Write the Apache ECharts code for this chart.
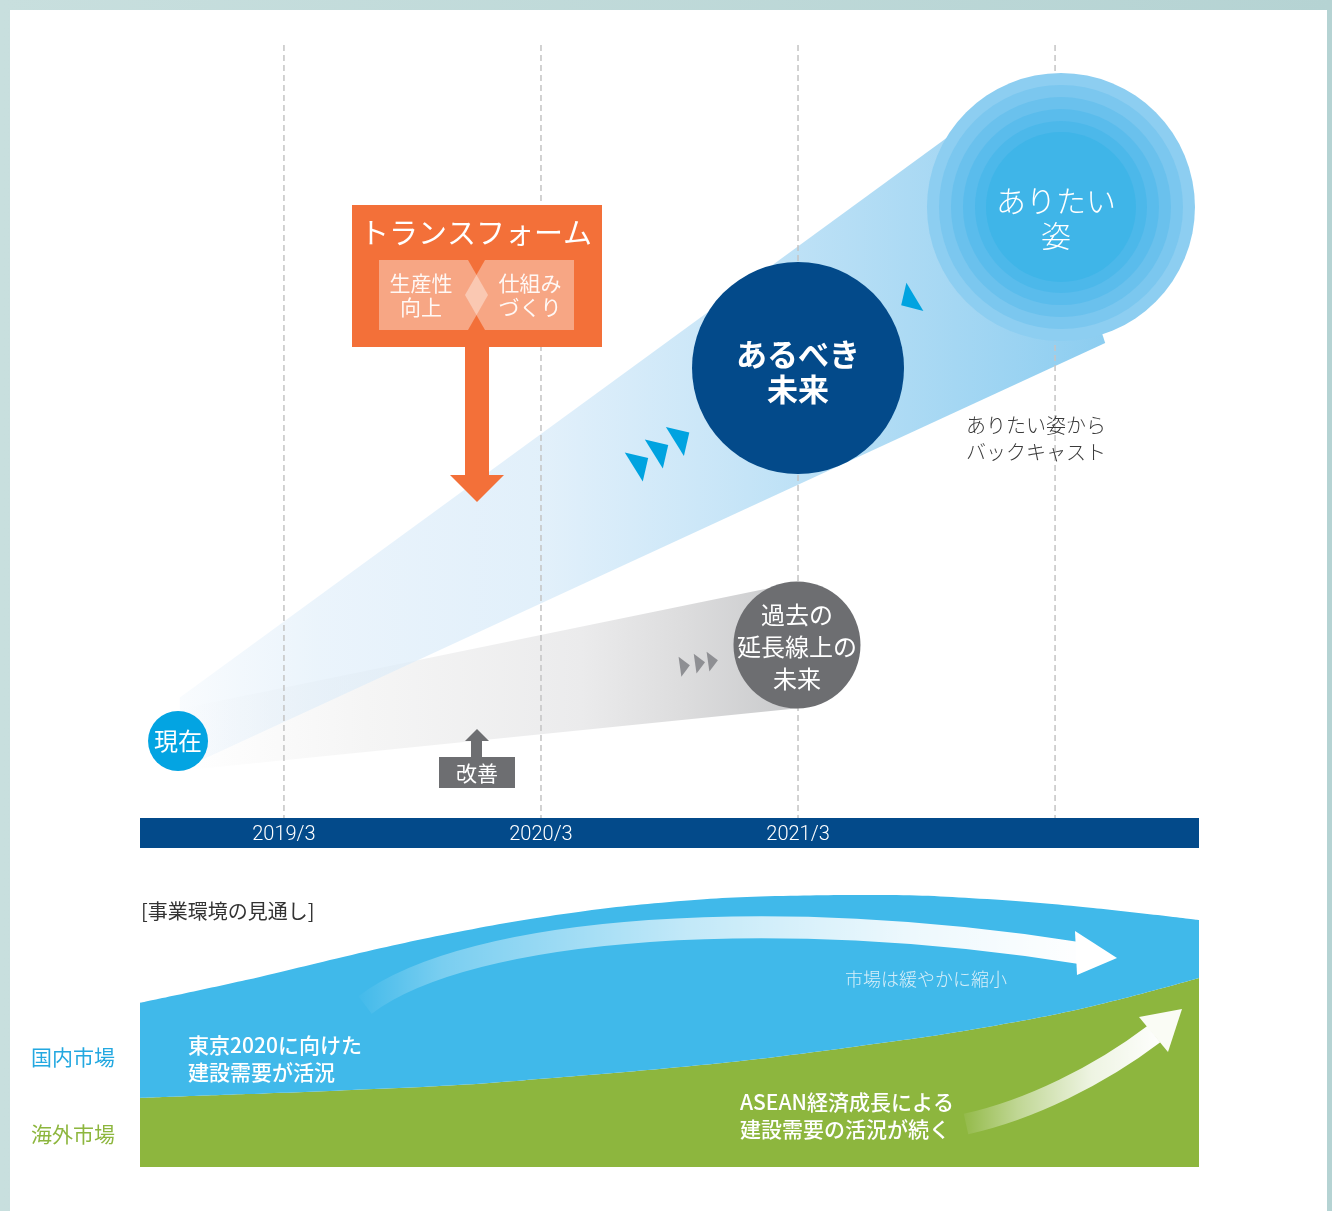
<!DOCTYPE html>
<html>
<head>
<meta charset="utf-8">
<script src="https://cdn.jsdelivr.net/npm/echarts@6/dist/echarts.min.js"></script>
<style>
  html, body { margin: 0; padding: 0; }
  #chart {
    width: 1332px;
    height: 1211px;
    background: linear-gradient(90deg, #c8dfde, #b5d3d3);
  }
</style>
</head>
<body>
<div id="chart"></div>
<script>
const FONT = "'Noto Sans CJK JP', 'Noto Sans', sans-serif";

// タイムライン (x: 年度インデックス 1 = 2019/3)
const tickYears = [1, 2, 3];
const tickLabels = ['2019/3', '2020/3', '2021/3'];
const gridYears = [1, 2, 3, 4];

// ノード (x: 年度, y: レベル 0-100)
const nodeNames = ['現在', '過去の\n延長線上の\n未来', 'あるべき\n未来', 'ありたい\n姿'];
const nodeX = [0.588, 2.996, 3.0, 4.023];
const nodeY = [9.96, 22.38, 58.21, 79.04];

// ビーム (多角形の頂点, データ座標)
const beamBlue = [[0.595, 15.6], [3.727, 91.6], [4.023, 79.04], [4.195, 61.45], [0.595, 6.2]];
const beamGray = [[0.595, 14.1], [3.0, 30.5], [3.0, 14.2], [0.595, 6.1]];

// 矢印マーカー
const blueMarks = [[2.389, 45.99], [2.467, 47.67], [2.549, 49.29]];
const backMark = [3.428, 66.88];
const grayMarks = [[2.560, 19.66], [2.619, 20.05], [2.669, 20.31]];

// 事業環境の見通し
const marketX = ['0', '1', '2', '3', '4', '5', '6', '7', '8', '9', '10'];
const overseas = [23, 24.3, 25.7, 27.3, 30, 33, 36.7, 41.3, 46.7, 53.7, 63];
const domestic = [31.7, 38, 45, 51, 54.3, 55.3, 53.6, 49.4, 42.6, 32.6, 19.3];

const chart = echarts.init(document.getElementById('chart'));

const lg = (stops) => new echarts.graphic.LinearGradient(0, 0, 1, 0, stops);

// 同心円 (ありたい姿)
const ringSizes = [268, 244, 220, 196, 172, 150];
const ringColors = ['#8dcef1', '#7bc7ef', '#6ac1ed', '#5abcec', '#4cb8ea', '#3fb5e8'];

const circleData = [
  {
    value: [nodeX[0], nodeY[0]], symbolSize: 60,
    itemStyle: { color: '#03a4e2' },
    label: { show: true, formatter: nodeNames[0], fontSize: 24 }
  },
  {
    value: [nodeX[1], nodeY[1]], symbolSize: 127,
    itemStyle: { color: '#6d6e71' },
    label: { show: true, formatter: nodeNames[1], fontSize: 24, lineHeight: 32, offset: [0, 2] }
  },
  {
    value: [nodeX[2], nodeY[2]], symbolSize: 212,
    itemStyle: { color: '#034a8a' },
    label: { show: true, formatter: nodeNames[2], fontSize: 31, fontWeight: 'bold', lineHeight: 35, offset: [0, 4] }
  }
];
ringSizes.forEach((s, i) => {
  circleData.push({
    value: [nodeX[3], nodeY[3]], symbolSize: s,
    itemStyle: { color: ringColors[i] },
    label: i === ringSizes.length - 1
      ? { show: true, formatter: nodeNames[3], fontSize: 30, fontWeight: 300, lineHeight: 35, offset: [-5, 11] }
      : { show: false }
  });
});

const TRI = 'path://M0,0L1,0.5L0,1Z';

const option = {
  animation: false,
  grid: [
    { left: 140, right: 133, top: 45, height: 773 },
    { left: 140, right: 133, top: 867, height: 300 }
  ],
  xAxis: [
    {
      gridIndex: 0, type: 'value', min: 0.44, max: 4.56, offset: 15,
      axisLine: { show: true, onZero: false, lineStyle: { color: '#034a8a', width: 30, cap: 'butt' } },
      axisTick: { show: false },
      splitLine: { show: false },
      axisLabel: {
        customValues: tickYears,
        formatter: (v) => tickLabels[Math.round(v) - 1],
        color: '#ffffff', fontSize: 20, fontWeight: 300, margin: -8,
        fontFamily: "Roboto, 'Liberation Sans', sans-serif"
      }
    },
    { gridIndex: 1, type: 'category', data: marketX, boundaryGap: false, show: false }
  ],
  yAxis: [
    { gridIndex: 0, type: 'value', min: 0, max: 100, show: false },
    { gridIndex: 1, type: 'value', min: 0, max: 100, show: false }
  ],
  textStyle: { fontFamily: FONT },
  series: [
    {
      // 過去の延長線
      type: 'custom', xAxisIndex: 0, yAxisIndex: 0, z: 1, silent: true,
      data: [[0, 0]],
      renderItem: (params, api) => ({
        type: 'polygon',
        shape: { points: beamGray.map(p => api.coord(p)) },
        style: {
          fill: lg([
            { offset: 0, color: 'rgba(245,245,245,0)' },
            { offset: 0.3, color: 'rgba(244,244,244,0.9)' },
            { offset: 0.65, color: '#ebebec' },
            { offset: 0.82, color: '#dcdcdd' },
            { offset: 1, color: '#c8c9cb' }
          ])
        }
      })
    },
    {
      // ありたい姿へのビーム
      type: 'custom', xAxisIndex: 0, yAxisIndex: 0, z: 1, silent: true,
      data: [[0, 0]],
      renderItem: (params, api) => ({
        type: 'polygon',
        shape: { points: beamBlue.map(p => api.coord(p)) },
        style: {
          fill: lg([
            { offset: 0, color: 'rgba(214,232,248,0.15)' },
            { offset: 0.15, color: 'rgba(218,235,249,0.55)' },
            { offset: 0.4, color: 'rgba(222,238,250,0.9)' },
            { offset: 1, color: '#8ccdf0' }
          ])
        }
      })
    },
    {
      // 年度の破線
      type: 'custom', xAxisIndex: 0, yAxisIndex: 0, z: 2, silent: true,
      data: gridYears.map(v => [v, 0]),
      renderItem: (params, api) => {
        const x = api.value(0);
        const a = api.coord([x, 100]);
        const b = api.coord([x, 0]);
        return {
          type: 'line',
          shape: { x1: a[0], y1: a[1], x2: b[0], y2: b[1] },
          style: { stroke: '#c4c4c4', lineWidth: 1.5, lineDash: [6, 4] }
        };
      }
    },
    {
      type: 'scatter', xAxisIndex: 0, yAxisIndex: 0, z: 3, silent: true,
      symbol: 'circle',
      itemStyle: { opacity: 1 },
      label: { position: 'inside', color: '#ffffff', fontFamily: FONT },
      data: circleData
    },
    {
      type: 'scatter', xAxisIndex: 0, yAxisIndex: 0, z: 4, silent: true,
      symbol: TRI, symbolSize: [17, 34], symbolRotate: 32,
      itemStyle: { color: '#00a3e0', opacity: 1 },
      data: blueMarks.concat([{ value: backMark, symbolRotate: 211, symbolSize: [16, 33] }])
    },
    {
      type: 'scatter', xAxisIndex: 0, yAxisIndex: 0, z: 4, silent: true,
      symbol: TRI, symbolSize: [10, 20], symbolRotate: 8,
      itemStyle: { color: '#8e8f93', opacity: 1 },
      data: grayMarks
    },
    {
      name: '海外市場', type: 'line', xAxisIndex: 1, yAxisIndex: 1, z: 1,
      stack: 'market', smooth: 0.4, symbol: 'none', silent: true,
      lineStyle: { width: 0 },
      areaStyle: { color: '#8db63e', opacity: 1 },
      data: overseas
    },
    {
      name: '国内市場', type: 'line', xAxisIndex: 1, yAxisIndex: 1, z: 1,
      stack: 'market', smooth: 0.4, symbol: 'none', silent: true,
      lineStyle: { width: 0 },
      areaStyle: { color: '#40b9ea', opacity: 1 },
      data: domestic
    }
  ],
  graphic: [
    // 白い台紙
    { type: 'rect', z: -10, silent: true, shape: { x: 10, y: 10, width: 1317, height: 1201 }, style: { fill: '#ffffff' } },

    // トランスフォーム
    { type: 'rect', z: 10, shape: { x: 352, y: 205, width: 250, height: 142 }, style: { fill: '#f37039' } },
    { type: 'rect', z: 10, shape: { x: 465, y: 346, width: 24, height: 130 }, style: { fill: '#f37039' } },
    { type: 'polygon', z: 10, shape: { points: [[450, 475], [504, 475], [477, 502]] }, style: { fill: '#f37039' } },
    { type: 'polygon', z: 11, shape: { points: [[379, 260], [468, 260], [488, 295], [468, 330], [379, 330]] }, style: { fill: 'rgba(255,255,255,0.38)' } },
    { type: 'polygon', z: 11, shape: { points: [[485, 260], [574, 260], [574, 330], [485, 330], [465, 295]] }, style: { fill: 'rgba(255,255,255,0.38)' } },
    { type: 'text', z: 12, x: 476, y: 233, style: { text: 'トランスフォーム', align: 'center', verticalAlign: 'middle', fontSize: 29, fontFamily: FONT, fill: '#ffffff' } },
    { type: 'text', z: 12, x: 421, y: 295, style: { text: '生産性\n向上', align: 'center', verticalAlign: 'middle', fontSize: 21, lineHeight: 24, fontFamily: FONT, fill: 'rgba(255,255,255,0.92)' } },
    { type: 'text', z: 12, x: 530, y: 295, style: { text: '仕組み\nづくり', align: 'center', verticalAlign: 'middle', fontSize: 21, lineHeight: 24, fontFamily: FONT, fill: 'rgba(255,255,255,0.92)' } },

    // 改善
    { type: 'rect', z: 10, shape: { x: 439, y: 757, width: 76, height: 31 }, style: { fill: '#6d6e71' } },
    { type: 'rect', z: 10, shape: { x: 471, y: 740, width: 11, height: 18 }, style: { fill: '#6d6e71' } },
    { type: 'polygon', z: 10, shape: { points: [[465, 741], [489, 741], [477, 729]] }, style: { fill: '#6d6e71' } },
    { type: 'text', z: 11, x: 477, y: 773, style: { text: '改善', align: 'center', verticalAlign: 'middle', fontSize: 21, fontFamily: FONT, fill: '#ffffff' } },

    // バックキャスト
    { type: 'text', z: 10, x: 966, y: 439, style: { text: 'ありたい姿から\nバックキャスト', align: 'left', verticalAlign: 'middle', fontSize: 20, lineHeight: 27, fontWeight: 300, fontFamily: FONT, fill: '#3a3a3a' } },

    // 事業環境の見通し
    { type: 'text', z: 10, x: 141, y: 911, style: { text: '[事業環境の見通し]', align: 'left', verticalAlign: 'middle', fontSize: 20, fontFamily: FONT, fill: '#333333' } },
    { type: 'text', z: 10, x: 31, y: 1057, style: { text: '国内市場', align: 'left', verticalAlign: 'middle', fontSize: 21, fontFamily: FONT, fill: '#23a8e0' } },
    { type: 'text', z: 10, x: 31, y: 1134, style: { text: '海外市場', align: 'left', verticalAlign: 'middle', fontSize: 21, fontFamily: FONT, fill: '#8db63e' } },

    // 白い矢印 (国内)
    {
      type: 'bezierCurve', z: 8, silent: true,
      shape: { x1: 365, y1: 1005, cpx1: 470, cpy1: 925, cpx2: 780, cpy2: 905, x2: 1079, y2: 953 },
      style: {
        fill: null, lineWidth: 22, lineCap: 'butt',
        stroke: lg([
          { offset: 0, color: 'rgba(255,255,255,0)' },
          { offset: 0.12, color: 'rgba(255,255,255,0.3)' },
          { offset: 0.45, color: 'rgba(255,255,255,0.68)' },
          { offset: 0.75, color: 'rgba(255,255,255,0.9)' },
          { offset: 1, color: '#ffffff' }
        ])
      }
    },
    { type: 'polygon', z: 8, shape: { points: [[1075, 931], [1117, 958], [1077, 975]] }, style: { fill: '#ffffff' } },

    // 白い矢印 (海外)
    {
      type: 'bezierCurve', z: 8, silent: true,
      shape: { x1: 966, y1: 1124, cpx1: 1030, cpy1: 1110, cpx2: 1100, cpy2: 1075, x2: 1154, y2: 1034 },
      style: {
        fill: null, lineWidth: 21, lineCap: 'butt',
        stroke: lg([
          { offset: 0, color: 'rgba(255,255,255,0)' },
          { offset: 0.3, color: 'rgba(255,255,255,0.45)' },
          { offset: 0.65, color: 'rgba(255,255,255,0.85)' },
          { offset: 1, color: '#ffffff' }
        ])
      }
    },
    { type: 'polygon', z: 8, shape: { points: [[1139, 1017], [1182, 1009], [1168, 1052]] }, style: { fill: '#fafcf5' } },

    { type: 'text', z: 10, x: 188, y: 1059, style: { text: '東京2020に向けた\n建設需要が活況', align: 'left', verticalAlign: 'middle', fontSize: 21, lineHeight: 27, fontWeight: 500, fontFamily: FONT, fill: '#ffffff' } },
    { type: 'text', z: 10, x: 845, y: 979, style: { text: '市場は緩やかに縮小', align: 'left', verticalAlign: 'middle', fontSize: 18, fontWeight: 300, fontFamily: FONT, fill: '#d8eff9' } },
    { type: 'text', z: 10, x: 740, y: 1116, style: { text: 'ASEAN経済成長による\n建設需要の活況が続く', align: 'left', verticalAlign: 'middle', fontSize: 21, lineHeight: 27, fontWeight: 500, fontFamily: FONT, fill: '#ffffff' } }
  ]
};

chart.setOption(option);
</script>
</body>
</html>
